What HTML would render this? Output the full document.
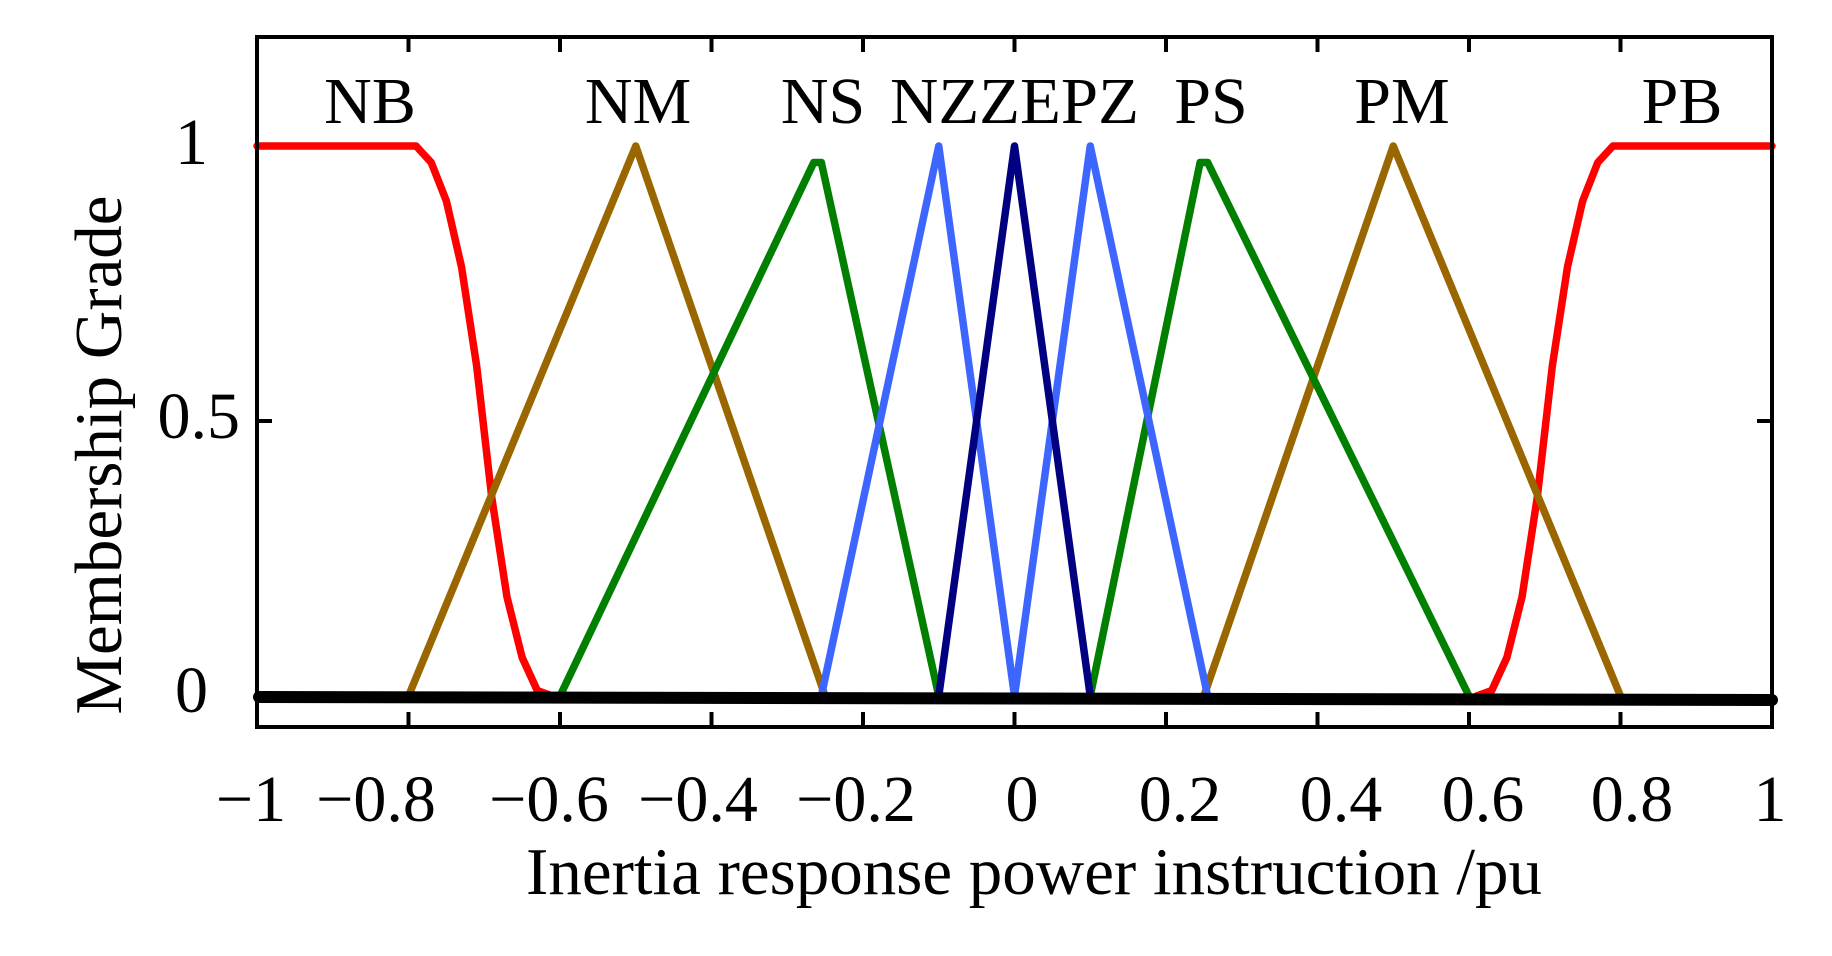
<!DOCTYPE html>
<html><head><style>html,body{margin:0;padding:0;background:#fff}svg{display:block}</style></head>
<body>
<svg width="1832" height="956" viewBox="0 0 1832 956" xmlns="http://www.w3.org/2000/svg" font-family="Liberation Serif, serif">
<rect width="1832" height="956" fill="#fff"/>
<g transform="matrix(757.5,0,0,-550,1014.5,696)" fill="none" stroke-linejoin="round" stroke-linecap="round">
<polyline vector-effect="non-scaling-stroke" stroke="#ff0000" stroke-width="7.5" points="-1,1 -0.79,1 -0.77,0.97 -0.75,0.9 -0.73,0.78 -0.71,0.6 -0.69,0.36 -0.67,0.18 -0.65,0.07 -0.63,0.01 -0.61,0"/>
<polyline vector-effect="non-scaling-stroke" stroke="#ff0000" stroke-width="7.5" points="1,1 0.79,1 0.77,0.97 0.75,0.9 0.73,0.78 0.71,0.6 0.69,0.36 0.67,0.18 0.65,0.07 0.63,0.01 0.61,0"/>
<polyline vector-effect="non-scaling-stroke" stroke="#996600" stroke-width="7.5" points="-0.8,0 -0.5,1 -0.25,0"/>
<polyline vector-effect="non-scaling-stroke" stroke="#996600" stroke-width="7.5" points="0.25,0 0.5,1 0.8,0"/>
<polyline vector-effect="non-scaling-stroke" stroke="#007f00" stroke-width="7.5" points="-0.6,0 -0.265,0.97 -0.255,0.97 -0.1,0"/>
<polyline vector-effect="non-scaling-stroke" stroke="#007f00" stroke-width="7.5" points="0.1,0 0.245,0.97 0.255,0.97 0.6,0"/>
<polyline vector-effect="non-scaling-stroke" stroke="#3d66ff" stroke-width="7.5" points="-0.255,0 -0.1,1 0,0 0.1,1 0.255,0"/>
<polyline vector-effect="non-scaling-stroke" stroke="#000080" stroke-width="7.5" points="-0.1,0 0,1 0.1,0"/>
</g>
<line x1="259" y1="697" x2="1772" y2="700" stroke="#000" stroke-width="12" stroke-linecap="round"/>
<rect x="257" y="37" width="1515" height="690" fill="none" stroke="#000" stroke-width="4"/>
<g stroke="#000" stroke-width="4">
<path d="M408.5,37v15M560,37v15M711.5,37v15M863,37v15M1014.5,37v15M1166,37v15M1317.5,37v15M1469,37v15M1620.5,37v15"/>
<path d="M408.5,727v-15M560,727v-15M711.5,727v-15M863,727v-15M1014.5,727v-15M1166,727v-15M1317.5,727v-15M1469,727v-15M1620.5,727v-15"/>
<path d="M257,421h15M1772,421h-15"/>
</g>
<g font-size="66" fill="#000" text-anchor="middle">
<text x="370" y="123">NB</text>
<text x="638" y="123">NM</text>
<text x="823" y="123">NS</text>
<text x="890" y="123" text-anchor="start" textLength="249" lengthAdjust="spacingAndGlyphs">NZZEPZ</text>
<text x="1211" y="123">PS</text>
<text x="1402" y="123">PM</text>
<text x="1682" y="123">PB</text>
</g>
<g font-size="66" fill="#000" text-anchor="end">
<text x="208" y="164">1</text>
<text x="240" y="438">0.5</text>
<text x="208" y="712">0</text>
</g>
<g font-size="66" fill="#000" text-anchor="middle">
<text x="251" y="821">−1</text>
<text x="376" y="821">−0.8</text>
<text x="549" y="821">−0.6</text>
<text x="698" y="821">−0.4</text>
<text x="856" y="821">−0.2</text>
<text x="1022" y="821">0</text>
<text x="1180" y="821">0.2</text>
<text x="1341" y="821">0.4</text>
<text x="1483" y="821">0.6</text>
<text x="1632" y="821">0.8</text>
<text x="1770" y="821">1</text>
</g>
<text x="1034" y="894" font-size="67" text-anchor="middle">Inertia response power instruction /pu</text>
<text transform="translate(121,455) rotate(-90)" font-size="67" text-anchor="middle">Membership Grade</text>
</svg>
</body></html>
